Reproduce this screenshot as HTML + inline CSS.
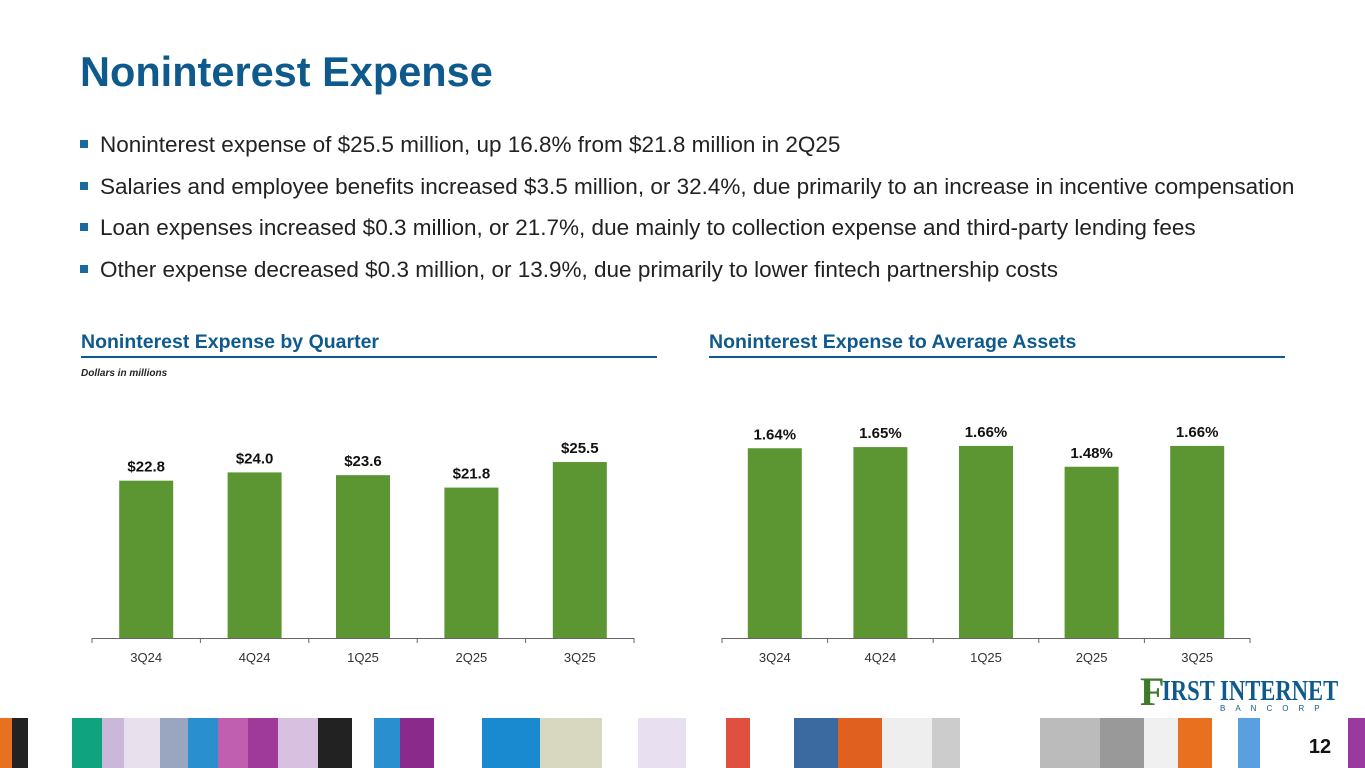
<!DOCTYPE html>
<html><head><meta charset="utf-8"><style>
body{margin:0;width:1365px;height:768px;overflow:hidden;background:#fff;font-family:"Liberation Sans",Arial,sans-serif;position:relative}
.t{position:absolute}
h1{position:absolute;left:80px;top:48px;margin:0;font-size:41.5px;color:#0f5a8c;font-weight:bold;white-space:nowrap}
.b{position:absolute;left:80px;font-size:22.5px;color:#222;white-space:nowrap}
.b:before{content:"";display:inline-block;width:8px;height:8px;background:#1a6aa0;margin-right:12px;vertical-align:4px}
.ct{position:absolute;top:331px;font-size:19.5px;font-weight:bold;color:#0f5a8c;white-space:nowrap}
.rule{position:absolute;top:356px;height:2px;background:#0f5a8c}
</style></head><body>
<h1>Noninterest Expense</h1>
<div class="b" style="top:132px">Noninterest expense of $25.5 million, up 16.8% from $21.8 million in 2Q25</div>
<div class="b" style="top:174px">Salaries and employee benefits increased $3.5 million, or 32.4%, due primarily to an increase in incentive compensation</div>
<div class="b" style="top:215px">Loan expenses increased $0.3 million, or 21.7%, due mainly to collection expense and third-party lending fees</div>
<div class="b" style="top:257px">Other expense decreased $0.3 million, or 13.9%, due primarily to lower fintech partnership costs</div>
<div class="ct" style="left:81px">Noninterest Expense by Quarter</div>
<div class="rule" style="left:81px;width:576px"></div>
<div class="t" style="left:81px;top:368px;font-size:10px;font-weight:bold;font-style:italic;color:#222">Dollars in millions</div>
<div class="ct" style="left:709px">Noninterest Expense to Average Assets</div>
<div class="rule" style="left:709px;width:576px"></div>
<svg class="t" style="left:0;top:0" width="1365" height="768" id="svg"></svg>
<div class="t" style="left:1140px;top:670px;width:210px;height:44px;white-space:nowrap">
<span style="position:absolute;left:0;top:-2px;font-family:'Liberation Serif',serif;font-size:40px;font-weight:bold;color:#3f7a2a">F</span>
<span style="position:absolute;left:22px;top:5px;font-family:'Liberation Serif',serif;font-size:29px;font-weight:bold;color:#0f5a8c;transform:scaleX(0.78);transform-origin:left">IRST INTERNET</span>
<span style="position:absolute;left:80px;top:34px;font-size:8px;letter-spacing:10px;color:#0f5a8c">BANCORP</span>
</div>
<script>
const categories=["3Q24","4Q24","1Q25","2Q25","3Q25"];
const expenseValues=[22.8,24.0,23.6,21.8,25.5];
const expenseLabels=["$22.8","$24.0","$23.6","$21.8","$25.5"];
const ratioValues=[1.64,1.65,1.66,1.48,1.66];
const ratioLabels=["1.64%","1.65%","1.66%","1.48%","1.66%"];
const svg=document.getElementById('svg');
const NS="http://www.w3.org/2000/svg";
function el(tag,attrs){const e=document.createElementNS(NS,tag);for(const k in attrs)e.setAttribute(k,attrs[k]);svg.appendChild(e);return e;}
function chart(x0,x1,vals,labels,scale,prefix){
  const base=638,step=(x1-x0)/categories.length,bw=54;
  const y=v=>base-v*scale;
  vals.forEach((v,i)=>{
    const cx=x0+step*(i+0.5);
    const r=el('rect',{x:cx-bw/2,y:y(v),width:bw,height:base-y(v),fill:'#5b9632'});
    
    
    const t=el('text',{x:cx,y:y(v)-9,'text-anchor':'middle','font-size':15,'font-weight':'bold',fill:'#111','font-family':'Liberation Sans, sans-serif'});
    t.textContent=labels[i];
    
    
    const c=el('text',{x:cx,y:662,'text-anchor':'middle','font-size':13,fill:'#333','font-family':'Liberation Sans, sans-serif'});
    c.textContent=categories[i];
    
    
  });
  const a=el('line',{x1:x0,x2:x1,y1:base+0.5,y2:base+0.5,stroke:'#666','stroke-width':1});
  
  
  for(let i=0;i<=categories.length;i++){const tx=x0+step*i;el('line',{x1:tx,x2:tx,y1:base,y2:base+5,stroke:'#666'});}
}
chart(92,634,expenseValues,expenseLabels,6.9,'expense');
chart(722,1250,ratioValues,ratioLabels,115.7,'ratio');
const strip=[[0,12,'#e8701e'],[12,16,'#222'],[40,32,'#fff'],[72,30,'#0fa37f'],[102,22,'#c9b8d8'],[124,36,'#e8e0ec'],[160,28,'#9aa6c0'],[188,30,'#2a8fcf'],[218,30,'#c05fb0'],[248,30,'#a03a9a'],[278,40,'#d8c0e0'],[318,34,'#222'],[352,22,'#fff'],[374,26,'#2a8fcf'],[400,34,'#8a2a8a'],[434,48,'#fff'],[482,58,'#1a8ad0'],[540,62,'#d8d8c0'],[602,36,'#fff'],[638,48,'#e8e0f0'],[686,40,'#fff'],[726,24,'#e05040'],[750,44,'#fff'],[794,44,'#3a6aa0'],[838,44,'#e06020'],[882,50,'#eee'],[932,28,'#ccc'],[960,80,'#fff'],[1040,60,'#bbb'],[1100,44,'#999'],[1144,34,'#f0f0f0'],[1178,34,'#e8701e'],[1212,26,'#fff'],[1238,22,'#5aa0e0'],[1260,58,'#fff'],[1318,30,'#fff'],[1348,17,'#9a3aa0']];
strip.forEach(s=>{const r=el('rect',{x:s[0],y:718,width:s[1],height:50,fill:s[2]});});
const pg=el('text',{x:1320,y:753,'text-anchor':'middle','font-size':20,'font-weight':'bold',fill:'#111','font-family':'Liberation Sans, sans-serif'});
pg.textContent='12';


</script>
</body></html>
